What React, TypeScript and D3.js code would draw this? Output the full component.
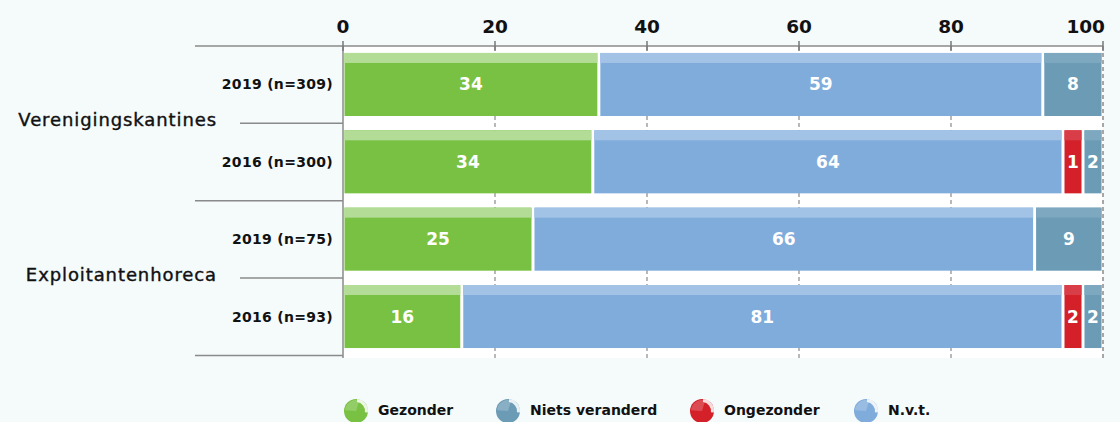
import * as d3 from 'd3';
import React, { useRef, useEffect } from 'react';

// data
const rowLabels = ['2019 (n=309)', '2016 (n=300)', '2019 (n=75)', '2016 (n=93)'];
const groupLabels = ['Verenigingskantines', 'Exploitantenhoreca'];
const gezonder = [34, 34, 25, 16];
const nvt = [59, 64, 66, 81];
const ongezonder = [0, 1, 0, 2];
const nietsVeranderd = [8, 2, 9, 2];
const xTicks = [0, 20, 40, 60, 80, 100];

// stacking order in the bars, and legend order
const stackKeys = ['Gezonder', 'N.v.t.', 'Ongezonder', 'Niets veranderd'];
const legendKeys = ['Gezonder', 'Niets veranderd', 'Ongezonder', 'N.v.t.'];

const colors = {
    'Gezonder': '#79c143',
    'N.v.t.': '#80acdc',
    'Ongezonder': '#d42029',
    'Niets veranderd': '#6b9bb5'
};
const stripColors = {
    'Gezonder': '#b3dc97',
    'N.v.t.': '#a2c2e6',
    'Ongezonder': '#d93e48',
    'Niets veranderd': '#7da8bf'
};

const FONT = '"DejaVu Sans", sans-serif';

function App() {
    const ref = useRef(null);
    const width = 1120;
    const height = 422;

    useEffect(() => {
        const svg = d3.select(ref.current);
        svg.selectAll('*').remove();

        const x = d3.scaleLinear().domain([0, 100]).range([343, 1103]);
        const minShare = x.invert(343 + 20); // narrow segments get at least ~20px, like the original

        // shares per row: small values widened, others scaled so the row fills 100
        const table = rowLabels.map((r, i) => {
            const vals = [gezonder[i], nvt[i], ongezonder[i], nietsVeranderd[i]];
            const total = d3.sum(vals);
            const small = vals.map(v => v > 0 && (v / total) * 100 < minShare);
            const fixed = d3.sum(small, s => (s ? minShare : 0));
            const restTotal = d3.sum(vals.filter((v, k) => !small[k]));
            const row = { row: r };
            stackKeys.forEach((k, j) => {
                row[k] = small[j] ? minShare : (vals[j] / restTotal) * (100 - fixed);
                row[k + '_v'] = vals[j];
            });
            return row;
        });

        const series = d3.stack().keys(stackKeys)(table);

        const y = d3.scaleBand().domain(rowLabels).range([46, 355])
            .paddingInner(0.185).paddingOuter(0.09);
        const step = y.step();
        const top = 46;
        const bottom = 358;

        svg.append('rect').attr('width', width).attr('height', height).attr('fill', '#f5fafb');
        svg.append('rect').attr('x', 343).attr('y', top).attr('width', 760).attr('height', bottom - top).attr('fill', '#ffffff');

        // dashed grid lines
        svg.append('g').selectAll('line')
            .data(xTicks.filter(t => t > 0 && t < 100))
            .enter().append('line')
            .attr('x1', d => x(d)).attr('x2', d => x(d))
            .attr('y1', top).attr('y2', bottom)
            .attr('stroke', '#8a8a8a').attr('stroke-width', 1.2)
            .attr('stroke-dasharray', '4,3');

        // bars
        const segs = svg.append('g');
        series.forEach(s => {
            const key = s.key;
            s.forEach((d, i) => {
                const v = table[i][key + '_v'];
                if (!v) return;
                const x0 = x(d[0]) + 1.5;
                const x1 = x(d[1]) - 1.5;
                const yy = y(table[i].row);
                const bh = y.bandwidth();
                segs.append('rect')
                    .attr('x', x0).attr('y', yy).attr('width', x1 - x0).attr('height', bh)
                    .attr('fill', colors[key]);
                segs.append('rect')
                    .attr('x', x0).attr('y', yy).attr('width', x1 - x0).attr('height', 10)
                    .attr('fill', stripColors[key]);
                segs.append('text')
                    .attr('x', (x0 + x1) / 2).attr('y', yy + bh / 2 + 6)
                    .attr('text-anchor', 'middle')
                    .attr('fill', '#ffffff')
                    .style('font-family', FONT).style('font-weight', 'bold').style('font-size', '17px')
                    .text(v);
            });
        });

        // right dashed line at 100
        svg.append('line')
            .attr('x1', x(100)).attr('x2', x(100)).attr('y1', top).attr('y2', bottom)
            .attr('stroke', '#8a8a8a').attr('stroke-width', 1.5).attr('stroke-dasharray', '4,3');

        // vertical axis line
        svg.append('line')
            .attr('x1', 343).attr('x2', 343).attr('y1', top).attr('y2', bottom)
            .attr('stroke', '#8a8a8a').attr('stroke-width', 1.5);

        // top axis
        svg.append('line')
            .attr('x1', 195).attr('x2', 1103).attr('y1', top).attr('y2', top)
            .attr('stroke', '#8a8a8a').attr('stroke-width', 1.5);
        const ticks = svg.append('g');
        xTicks.forEach(t => {
            ticks.append('line')
                .attr('x1', x(t)).attr('x2', x(t)).attr('y1', top - 5).attr('y2', top + 5)
                .attr('stroke', '#777').attr('stroke-width', 1.5);
            ticks.append('text')
                .attr('x', t === 100 ? x(t) + 2 : x(t)).attr('y', 33)
                .attr('text-anchor', t === 100 ? 'end' : 'middle')
                .attr('fill', '#111')
                .style('font-family', FONT).style('font-weight', 'bold').style('font-size', '18.5px')
                .text(t);
        });

        // row separators and labels
        const sep = svg.append('g');
        for (let k = 1; k <= 4; k++) {
            const yy = top + k * step;
            sep.append('line')
                .attr('x1', k % 2 === 0 ? 195 : 240).attr('x2', 343)
                .attr('y1', yy).attr('y2', yy)
                .attr('stroke', '#8a8a8a').attr('stroke-width', 1.5);
        }
        rowLabels.forEach(r => {
            sep.append('text')
                .attr('x', 333).attr('y', y(r) + y.bandwidth() / 2 + 5)
                .attr('text-anchor', 'end')
                .attr('fill', '#111')
                .style('font-family', FONT).style('font-weight', 'bold').style('font-size', '14px')
                .style('letter-spacing', '0.3px')
                .text(r);
        });
        groupLabels.forEach((g, i) => {
            sep.append('text')
                .attr('x', 217).attr('y', top + (2 * i + 1) * step + 3)
                .attr('text-anchor', 'end')
                .attr('fill', '#111').attr('stroke', '#111').attr('stroke-width', 0.4)
                .style('font-family', FONT).style('font-size', '18px').style('letter-spacing', '0.9px')
                .text(g);
        });

        // legend
        const legendX = [356, 508, 702, 866];
        const legend = svg.append('g');
        legendKeys.forEach((k, i) => {
            const cx = legendX[i];
            const cy = 411;
            legend.append('circle').attr('cx', cx).attr('cy', cy).attr('r', 12).attr('fill', colors[k]);
            legend.append('path')
                .attr('d', d3.arc()({ innerRadius: 9, outerRadius: 12, startAngle: 0.1, endAngle: 1.7 }))
                .attr('transform', `translate(${cx},${cy})`)
                .attr('fill', '#ffffff').attr('opacity', 0.85);
            legend.append('path')
                .attr('d', d3.arc()({ innerRadius: 0, outerRadius: 11, startAngle: -1.5, endAngle: 0.3 }))
                .attr('transform', `translate(${cx},${cy})`)
                .attr('fill', '#ffffff').attr('opacity', 0.2);
            legend.append('text')
                .attr('x', cx + 22).attr('y', cy + 4)
                .attr('fill', '#111')
                .style('font-family', FONT).style('font-weight', 'bold').style('font-size', '14px')
                .text(k);
        });
    }, []);

    return (
        <div style={{ position: 'absolute', left: 0, top: 0 }}>
            <svg ref={ref} width={width} height={height} style={{ display: 'block' }}></svg>
        </div>
    );
}

export default App;
